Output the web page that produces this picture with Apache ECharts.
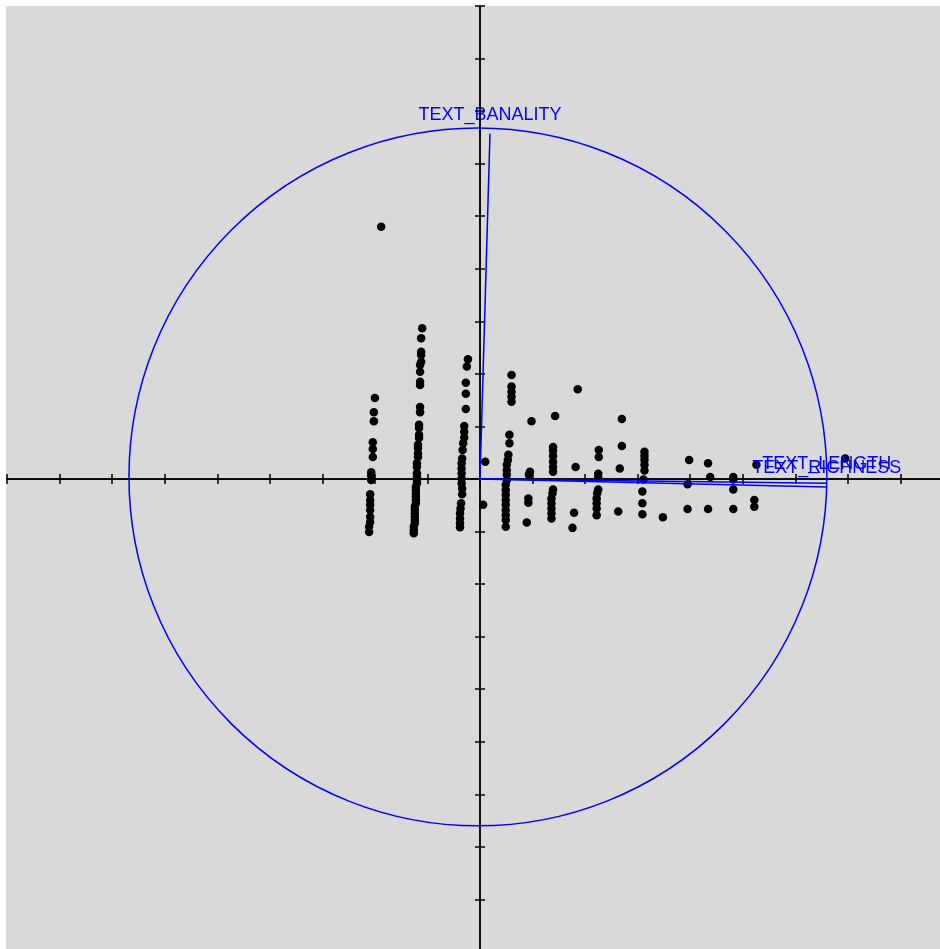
<!DOCTYPE html>
<html><head><meta charset="utf-8">
<script src="https://cdn.jsdelivr.net/npm/echarts@6/dist/echarts.min.js"></script>
<style>html,body{margin:0;padding:0;background:#fff;overflow:hidden}#c{width:940px;height:949px}</style>
</head><body><div id="c"></div>
<script>
const colA = [[-2.00,1.54],[-2.02,1.27],[-2.02,1.10],[-2.04,0.70],[-2.04,0.57],[-2.04,0.42],[-2.07,0.13],[-2.07,0.06],[-2.07,-0.02],[-2.09,-0.29],[-2.09,-0.40],[-2.09,-0.49],[-2.09,-0.59],[-2.09,-0.72],[-2.09,-0.82],[-2.11,-0.91],[-2.11,-1.01]];
const colB = [[-1.10,2.87],[-1.12,2.68],[-1.12,2.42],[-1.12,2.36],[-1.12,2.23],[-1.14,2.17],[-1.14,2.04],[-1.14,1.85],[-1.14,1.79],[-1.14,1.37],[-1.14,1.27],[-1.16,1.03],[-1.16,0.97],[-1.16,0.84],[-1.16,0.78],[-1.18,0.65],[-1.18,0.59],[-1.18,0.49],[-1.18,0.42],[-1.20,0.30],[-1.20,0.23],[-1.20,0.11],[-1.20,0.04],[-1.20,-0.02],[-1.20,-0.08],[-1.22,-0.15],[-1.22,-0.21],[-1.22,-0.27],[-1.22,-0.34],[-1.22,-0.40],[-1.22,-0.46],[-1.24,-0.53],[-1.24,-0.59],[-1.24,-0.65],[-1.24,-0.72],[-1.24,-0.78],[-1.24,-0.84],[-1.26,-0.91],[-1.26,-0.97],[-1.26,-1.03]];
const colC = [[-0.23,2.28],[-0.25,2.14],[-0.27,1.83],[-0.27,1.62],[-0.27,1.33],[-0.30,1.01],[-0.30,0.90],[-0.30,0.79],[-0.32,0.68],[-0.33,0.55],[-0.34,0.39],[-0.35,0.30],[-0.35,0.20],[-0.35,0.11],[-0.35,0.01],[-0.35,-0.08],[-0.34,-0.18],[-0.34,-0.29],[-0.36,-0.46],[-0.37,-0.56],[-0.38,-0.65],[-0.38,-0.75],[-0.38,-0.84],[-0.38,-0.92]];
const colD = [[0.10,0.33],[0.06,-0.49]];
const colE = [[0.60,1.98],[0.60,1.76],[0.60,1.66],[0.60,1.57],[0.60,1.47],[0.56,0.84],[0.56,0.68],[0.54,0.46],[0.53,0.36],[0.51,0.27],[0.51,0.17],[0.51,0.08],[0.51,-0.02],[0.49,-0.11],[0.49,-0.21],[0.49,-0.30],[0.49,-0.40],[0.49,-0.49],[0.49,-0.59],[0.49,-0.69],[0.49,-0.78],[0.49,-0.91]];
const colF = [[0.98,1.10],[0.95,0.14],[0.93,0.08],[0.92,-0.37],[0.92,-0.45],[0.89,-0.83]];
const colG = [[1.43,1.20],[1.39,0.61],[1.39,0.54],[1.39,0.44],[1.39,0.33],[1.39,0.23],[1.39,0.14],[1.39,-0.20],[1.38,-0.27],[1.36,-0.37],[1.36,-0.46],[1.36,-0.56],[1.36,-0.65],[1.36,-0.75]];
const colH = [[1.86,1.71],[1.82,0.23],[1.79,-0.64],[1.76,-0.93]];
const colI = [[2.26,0.55],[2.26,0.42],[2.25,0.10],[2.25,0.03],[2.25,-0.20],[2.23,-0.27],[2.22,-0.37],[2.22,-0.46],[2.22,-0.56],[2.22,-0.69]];
const colJ = [[2.70,1.14],[2.70,0.63],[2.66,0.20],[2.63,-0.62]];
const colK = [[3.13,0.52],[3.13,0.44],[3.13,0.36],[3.13,0.27],[3.13,0.16],[3.11,-0.01],[3.09,-0.24],[3.09,-0.46],[3.09,-0.67]];
const colL = [[3.48,-0.73]];
const colM = [[3.98,0.36],[3.95,-0.10],[3.95,-0.57]];
const colN = [[4.34,0.30],[4.38,0.04],[4.34,-0.57]];
const colO = [[4.82,0.04],[4.82,-0.01],[4.82,-0.20],[4.82,-0.57]];
const colP = [[5.26,0.27],[5.22,-0.40],[5.22,-0.53]];
const others = [[6.95,0.39],[-1.88,4.80]];

// Variable loadings (arrow end points) and names
const varNames = ['TEXT_BANALITY','TEXT_LENGTH','TEXT_RICHNESS'];
const varX = [0.19, 6.60, 6.60];
const varY = [6.57, -0.08, -0.15];

// Correlation circle: centre x, centre y, radius
const circle = [-0.04, 0.04, 6.64];

// Axis range and tick spacing
const axisMin = -9, axisMax = 9, tickStep = 1;

const points = [].concat(colA,colB,colC,colD,colE,colF,colG,colH,colI,colJ,colK,colL,colM,colN,colO,colP,others);
const loadings = varX.map((x,i)=>[x,varY[i]]);

const FONT = '18px "Liberation Sans", Arial, sans-serif';
const BLUE = '#0000ff';

function axis(pos){
  return {type:'value', position:pos, min:axisMin, max:axisMax, interval:tickStep,
    axisLine:{show:true, onZero:true, lineStyle:{color:'#000', width:1.5}},
    axisTick:{show:true, inside:false, length:5, lineStyle:{color:'#000', width:1.5}},
    axisLabel:{show:false}, splitLine:{show:false}, silent:true};
}

const chart = echarts.init(document.getElementById('c'), null, {renderer:'canvas'});
chart.setOption({
  animation:false,
  graphic:[{type:'rect', z:-100, silent:true, shape:{x:6, y:6, width:934, height:943}, style:{fill:'#d9d9d9'}}],
  grid:{left:7.05, top:6.05, width:945.9, height:945.9, outerBoundsMode:'none', containLabel:false},
  xAxis:[axis('bottom'), axis('top')],
  yAxis:[axis('left'), axis('right')],
  series:[
    {type:'scatter', data:points, symbol:'circle', symbolSize:8.5, itemStyle:{color:'#000', opacity:1}, z:3, silent:true},
    {type:'custom', data:[circle], z:4, silent:true,
      renderItem:function(params, api){
        const c = api.coord([api.value(0), api.value(1)]);
        const r = api.size([api.value(2), api.value(2)]);
        return {type:'circle', shape:{cx:c[0], cy:c[1], r:r[0]}, style:{fill:'none', stroke:BLUE, lineWidth:1.5}};
      }},
    {type:'custom', data:loadings, z:5, silent:true,
      renderItem:function(params, api){
        const p0 = api.coord([0,0]);
        const p1 = api.coord([api.value(0), api.value(1)]);
        return {type:'group', children:[
          {type:'line', shape:{x1:p0[0], y1:p0[1], x2:p1[0], y2:p1[1]}, style:{stroke:BLUE, lineWidth:1.5}},
          {type:'text', x:p1[0], y:p1[1]-19, style:{text:varNames[params.dataIndex], fill:BLUE, font:FONT, align:'center', verticalAlign:'middle', textAlign:'center', textVerticalAlign:'middle'}}
        ]};
      }}
  ]
});
</script></body></html>
